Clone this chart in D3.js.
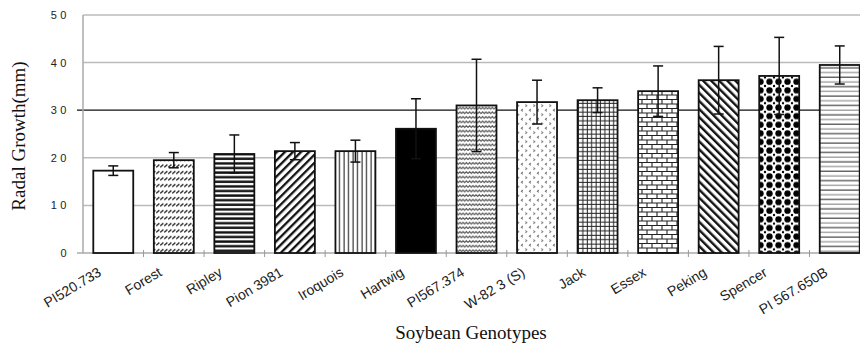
<!DOCTYPE html>
<html>
<head>
<meta charset="utf-8">
<script src="https://cdn.jsdelivr.net/npm/d3@7"></script>
<style>
  body { margin: 0; background: #fff; }
  svg { display: block; }
</style>
</head>
<body>
<svg width="860" height="346"></svg>
<script>
// data
const genotypes = ["PI520.733", "Forest", "Ripley", "Pion 3981", "Iroquois", "Hartwig",
  "PI567.374", "W-82 3 (S)", "Jack", "Essex", "Peking", "Spencer", "PI 567.650B"];
const growth = [17.3, 19.5, 20.8, 21.4, 21.4, 26.1, 31.0, 31.7, 32.1, 34.0, 36.3, 37.2, 39.5];
const errs = [1.0, 1.6, 4.0, 1.8, 2.3, 6.3, 9.7, 4.6, 2.6, 5.3, 7.1, 8.1, 4.0];
const yTicks = [0, 10, 20, 30, 40, 50];

let svg = d3.select("svg");

let x = d3.scaleBand()
  .domain(genotypes)
  .range([83, 870])
  .paddingInner(0.34)
  .paddingOuter(0.17);

let y = d3.scaleLinear()
  .domain([0, 50])
  .range([253, 15]);

// fill patterns, one per bar
let defs = svg.append("defs");
function pat(id, w, h, rot) {
  let p = defs.append("pattern")
    .attr("id", id)
    .attr("patternUnits", "userSpaceOnUse")
    .attr("width", w).attr("height", h);
  if (rot) p.attr("patternTransform", "rotate(" + rot + ")");
  p.append("rect").attr("width", w).attr("height", h).attr("fill", "#fff");
  return p;
}
// forest: rows of small slashes
pat("p1", 4, 6.5).append("path").attr("d", "M0.2,4.8 L3.4,2.2").attr("stroke", "#222").attr("stroke-width", 1.3);
// ripley: thick horizontal bars
pat("p2", 10, 4.6).append("rect").attr("y", 1.2).attr("width", 10).attr("height", 2.4).attr("fill", "#111");
// pion: thick "/" lines
pat("p3", 5.7, 10, 45).append("rect").attr("width", 2.3).attr("height", 10).attr("fill", "#111");
// iroquois: vertical lines
pat("p4", 4.5, 10).append("rect").attr("x", 1.5).attr("width", 1.1).attr("height", 10).attr("fill", "#222");
// pi567.374: waves
pat("p6", 6.5, 4.6).append("path").attr("d", "M0,3.4 L1.6,1.4 L3.25,3.4 L4.9,1.4 L6.5,3.4")
  .attr("fill", "none").attr("stroke", "#444").attr("stroke-width", 1);
// w-82: sparse gray marks
let p7 = pat("p7", 8, 9);
p7.append("path").attr("d", "M2.8,1 L1.4,2.2 L2.8,3.4").attr("fill", "none").attr("stroke", "#777").attr("stroke-width", 1.1);
p7.append("path").attr("d", "M5.4,5.5 L6.8,6.7 L5.4,7.9").attr("fill", "none").attr("stroke", "#888").attr("stroke-width", 1.1);
// jack: fine grid
let p8 = pat("p8", 4.4, 4.4);
p8.append("rect").attr("x", 1.6).attr("width", 1).attr("height", 4.4).attr("fill", "#222");
p8.append("rect").attr("y", 1.6).attr("width", 4.4).attr("height", 1).attr("fill", "#222");
// essex: bricks
let p9 = pat("p9", 10, 9);
p9.append("path").attr("d", "M0,0.5 H10 M0,5 H10 M2,0.5 V5 M7,5 V9")
  .attr("stroke", "#222").attr("stroke-width", 1.1);
// peking: thick "\" lines
pat("p10", 5.7, 10, -45).append("rect").attr("width", 2.4).attr("height", 10).attr("fill", "#111");
// spencer: big dots
let p11 = pat("p11", 9, 8.6);
p11.append("circle").attr("cx", 4.5).attr("cy", 4.3).attr("r", 3.2).attr("fill", "#000");
[[0, 0], [9, 0], [0, 8.6], [9, 8.6]].forEach(c => {
  p11.append("circle").attr("cx", c[0]).attr("cy", c[1]).attr("r", 1.2).attr("fill", "#000");
});
// pi 567.650B: thin horizontal lines
let p12 = pat("p12", 10, 9.4);
p12.append("rect").attr("y", 1.5).attr("width", 10).attr("height", 1.1).attr("fill", "#333");
p12.append("rect").attr("y", 6.2).attr("width", 10).attr("height", 1.1).attr("fill", "#888");

let fills = ["#fff", "url(#p1)", "url(#p2)", "url(#p3)", "url(#p4)", "#000",
  "url(#p6)", "url(#p7)", "url(#p8)", "url(#p9)", "url(#p10)", "url(#p11)", "url(#p12)"];

// gridlines
svg.append("g")
  .selectAll("line")
  .data(yTicks.filter(d => d > 0))
  .enter()
  .append("line")
  .attr("x1", d => d == 30 ? 77 : 83)
  .attr("x2", 870)
  .attr("y1", d => y(d))
  .attr("y2", d => y(d))
  .attr("stroke", d => d == 30 ? "#111" : "#bbb")
  .attr("stroke-width", d => d == 30 ? 1.2 : 1.5);

// left axis line
svg.append("line")
  .attr("x1", 83).attr("x2", 83)
  .attr("y1", y(50)).attr("y2", y(0))
  .attr("stroke", "#aaa").attr("stroke-width", 1.5);

// y tick labels
svg.append("g")
  .selectAll("text")
  .data(yTicks)
  .enter()
  .append("text")
  .attr("x", 70)
  .attr("y", d => y(d))
  .attr("dy", "0.36em")
  .attr("text-anchor", "end")
  .style("font-family", "Liberation Sans, Arial, sans-serif")
  .style("font-size", "11px")
  .style("letter-spacing", "3.5px")
  .attr("fill", "#222")
  .text(d => d);

// bottom axis line + ticks between categories
svg.append("line")
  .attr("x1", 77).attr("x2", 870)
  .attr("y1", y(0)).attr("y2", y(0))
  .attr("stroke", "#aaa").attr("stroke-width", 1.5);

svg.append("g")
  .selectAll("line")
  .data(genotypes.slice(1))
  .enter()
  .append("line")
  .attr("x1", d => x(d) - x.step() * x.paddingInner() / 2)
  .attr("x2", d => x(d) - x.step() * x.paddingInner() / 2)
  .attr("y1", y(0) - 3)
  .attr("y2", y(0) + 4)
  .attr("stroke", "#999")
  .attr("stroke-width", 1);

// bars
svg.append("g")
  .selectAll("rect")
  .data(genotypes)
  .enter()
  .append("rect")
  .attr("x", d => x(d))
  .attr("width", x.bandwidth())
  .attr("y", (d, i) => y(growth[i]))
  .attr("height", (d, i) => y(0) - y(growth[i]))
  .attr("fill", (d, i) => fills[i])
  .attr("stroke", "#111")
  .attr("stroke-width", 1.8);

// error bars
let eb = svg.append("g")
  .selectAll("g")
  .data(genotypes)
  .enter()
  .append("g")
  .attr("stroke", "#111")
  .attr("stroke-width", 1.5);

eb.append("line")
  .attr("x1", d => x(d) + x.bandwidth() / 2)
  .attr("x2", d => x(d) + x.bandwidth() / 2)
  .attr("y1", (d, i) => y(growth[i] + errs[i]))
  .attr("y2", (d, i) => y(growth[i] - errs[i]));
eb.append("line")
  .attr("x1", d => x(d) + x.bandwidth() / 2 - 5)
  .attr("x2", d => x(d) + x.bandwidth() / 2 + 5)
  .attr("y1", (d, i) => y(growth[i] + errs[i]))
  .attr("y2", (d, i) => y(growth[i] + errs[i]));
eb.append("line")
  .attr("x1", d => x(d) + x.bandwidth() / 2 - 5)
  .attr("x2", d => x(d) + x.bandwidth() / 2 + 5)
  .attr("y1", (d, i) => y(growth[i] - errs[i]))
  .attr("y2", (d, i) => y(growth[i] - errs[i]));

// rotated category labels
svg.append("g")
  .selectAll("text")
  .data(genotypes)
  .enter()
  .append("text")
  .attr("transform", d => "translate(" + (x(d) + x.bandwidth() / 2 - 11) + "," + 275 + ") rotate(-31)")
  .attr("text-anchor", "end")
  .style("font-family", "Liberation Sans, Arial, sans-serif")
  .style("font-size", "14px")
  .attr("fill", "#222")
  .text(d => d);

// axis titles
svg.append("text")
  .attr("transform", "translate(25,136) rotate(-90)")
  .attr("text-anchor", "middle")
  .style("font-family", "Liberation Serif, Times New Roman, serif")
  .style("font-size", "19px")
  .attr("fill", "#111")
  .text("Radal Growth(mm)");

svg.append("text")
  .attr("x", 471)
  .attr("y", 339)
  .attr("text-anchor", "middle")
  .style("font-family", "Liberation Serif, Times New Roman, serif")
  .style("font-size", "19px")
  .attr("fill", "#111")
  .text("Soybean Genotypes");
</script>
</body>
</html>
